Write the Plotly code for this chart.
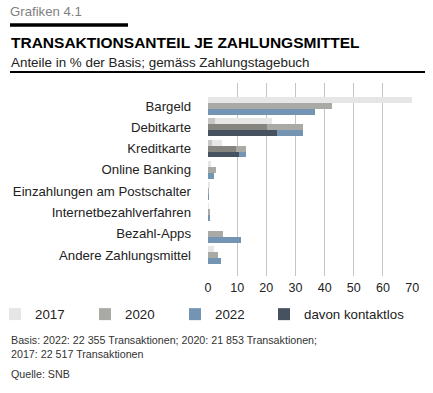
import plotly.graph_objects as go

categories = ["Bargeld", "Debitkarte", "Kreditkarte", "Online Banking",
              "Einzahlungen am Postschalter", "Internetbezahlverfahren",
              "Bezahl-Apps", "Andere Zahlungsmittel"]
v2017 = [70.0, 21.9, 4.7, 1.1, 0.6, 0.1, 0.0, 2.2]
v2020 = [42.6, 32.7, 12.9, 2.8, 0.2, 0.6, 5.2, 3.5]
v2022 = [36.6, 32.7, 12.9, 2.2, 0.3, 0.6, 11.4, 4.6]
k2017 = [None, 2.4, 1.4, None, None, None, None, None]
k2020 = [None, 20.1, 9.6, None, None, None, None, None]
k2022 = [None, 23.6, 10.6, None, None, None, None, None]
x_ticks = [0, 10, 20, 30, 40, 50, 60, 70]

W, H = 433, 393
L, R, T, B = 208, 20, 83, 117
pw, ph = W - L - R, H - T - B

def px(x):
    return (x - L) / pw

def py(y):
    return (H - B - y) / ph

FONT = "Liberation Sans, Arial, sans-serif"
TXT = "#222222"

fig = go.Figure()
idx = list(range(len(categories)))
bw = 0.28
specs = [
    ("2017", v2017, k2017, "#e6e6e6", "#c6c6c3", -0.42),
    ("2020", v2020, k2020, "#a9a9a5", "#85847f", -0.14),
    ("2022", v2022, k2022, "#7394b3", "#46525f", 0.14),
]
for name, vals, kvals, col, kcol, off in specs:
    fig.add_trace(go.Bar(y=idx, x=vals, orientation="h", name=name,
                         marker=dict(color=col, line=dict(width=0)),
                         width=bw, offset=off, showlegend=True, legend="legend"))
for name, vals, kvals, col, kcol, off in specs:
    fig.add_trace(go.Bar(y=idx, x=kvals, orientation="h", name="davon kontaktlos",
                         marker=dict(color=kcol, line=dict(width=0)),
                         width=bw, offset=off, showlegend=(name == "2022"),
                         legend="legend2"))

leg_common = dict(orientation="h", yanchor="top", xanchor="left", traceorder="normal",
                  font=dict(size=13.3, color=TXT), itemclick=False,
                  bgcolor="rgba(0,0,0,0)")

fig.update_layout(
    width=W, height=H,
    margin=dict(l=L, r=R, t=T, b=B, autoexpand=False),
    barmode="overlay",
    plot_bgcolor="white", paper_bgcolor="white",
    font=dict(family=FONT, color=TXT, size=13),
    xaxis=dict(range=[0, 70.3], tickvals=x_ticks, showgrid=True,
               gridcolor="#c4c4c4", gridwidth=1.3, zeroline=False,
               showline=False, ticks="", tickfont=dict(size=12.5, color=TXT),
               ticklabelstandoff=2, fixedrange=True, automargin=False),
    yaxis=dict(range=[7.99, -1.08], tickvals=idx, ticktext=categories,
               showgrid=False, zeroline=False, showline=False, ticks="",
               ticklabelstandoff=16, tickfont=dict(size=13.2, color=TXT),
               automargin=False, fixedrange=True),
    legend=dict(x=px(-5), y=py(299), entrywidth=45, entrywidthmode="pixels",
                **leg_common),
    legend2=dict(x=px(264), y=py(299), **leg_common),
    bargap=0,
)

annos = [
    dict(text="Grafiken 4.1", x=px(8), y=py(11), font=dict(size=13.2, color="#7f7f7f")),
    dict(text="<b>TRANSAKTIONSANTEIL JE ZAHLUNGSMITTEL</b>", x=px(9), y=py(43),
         font=dict(size=15.5, color="#000000")),
    dict(text="Anteile in % der Basis; gemäss Zahlungstagebuch", x=px(9), y=py(62),
         font=dict(size=13.4, color=TXT)),
    dict(text="Basis: 2022: 22 355 Transaktionen; 2020: 21 853 Transaktionen;<br>2017: 22 517 Transaktionen",
         x=px(9), y=py(347), font=dict(size=10.7, color="#333333")),
    dict(text="Quelle: SNB", x=px(9), y=py(374), font=dict(size=10.7, color="#333333")),
]
for a in annos:
    fig.add_annotation(xref="paper", yref="paper", xanchor="left", yanchor="middle",
                       showarrow=False, align="left", **a)

fig.add_shape(type="line", xref="paper", yref="paper",
              x0=px(10), x1=px(128), y0=py(25), y1=py(25),
              line=dict(color="#000000", width=3.5))
fig.add_shape(type="line", xref="paper", yref="paper",
              x0=px(10), x1=px(425), y0=py(72), y1=py(72),
              line=dict(color="#000000", width=1.8))

fig.write_html("out.html", config={"displayModeBar": False},
               post_script="document.body.style.margin='0';")
